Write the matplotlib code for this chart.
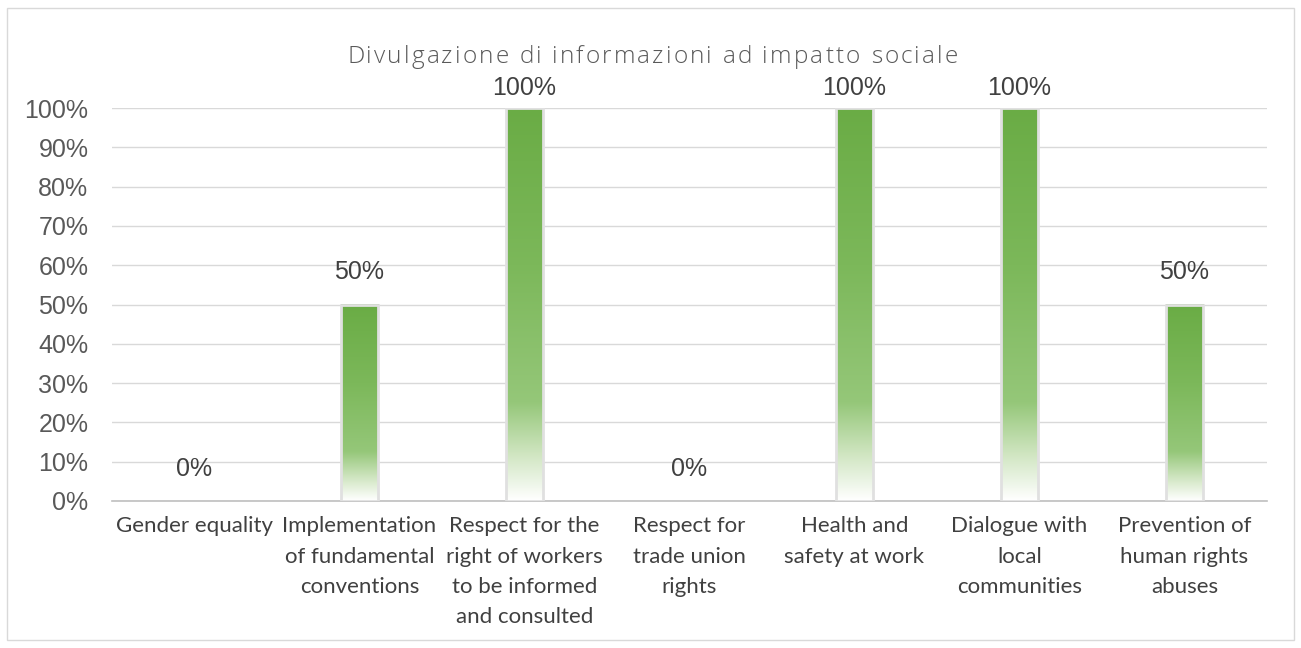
import matplotlib
matplotlib.use("Agg")
import matplotlib.pyplot as plt
import numpy as np
from matplotlib.colors import LinearSegmentedColormap
from matplotlib.patches import Rectangle
from matplotlib.font_manager import FontProperties

categories = ["Gender equality",
              "Implementation\nof fundamental\nconventions",
              "Respect for the\nright of workers\nto be informed\nand consulted",
              "Respect for\ntrade union\nrights",
              "Health and\nsafety at work",
              "Dialogue with\nlocal\ncommunities",
              "Prevention of\nhuman rights\nabuses"]
values = [0, 50, 100, 0, 100, 100, 50]
labels = ["0%", "50%", "100%", "0%", "100%", "100%", "50%"]
yticks = [0, 10, 20, 30, 40, 50, 60, 70, 80, 90, 100]
title = "Divulgazione di informazioni ad impatto sociale"

W, H = 1301, 648
fig = plt.figure(figsize=(W/100, H/100), dpi=100)
ax = fig.add_axes([112/W, 1-501/H, (1267-112)/W, (501-108)/H])

# outer border
fig.patches.append(Rectangle((7/W, 8/H), (1294-7)/W, (640-8)/H,
                             transform=fig.transFigure, fill=False,
                             edgecolor="#d9d9d9", linewidth=1))

x = np.arange(len(categories))
bars = ax.bar(x, values, width=0.23, color="none", edgecolor="none", zorder=3)

cmap = LinearSegmentedColormap.from_list("g", [
    (0.0, "#ffffff"), (0.12, "#cfe5c0"), (0.25, "#95c779"),
    (0.6, "#7cb85a"), (1.0, "#6aac45")])
grad = np.linspace(0, 1, 256).reshape(-1, 1)
for b in bars:
    h = b.get_height()
    if h <= 0:
        continue
    x0 = b.get_x(); w = b.get_width()
    ax.imshow(grad, cmap=cmap, origin="lower", aspect="auto",
              extent=(x0, x0 + w, 0, h), zorder=3, interpolation="bilinear")
    ax.add_patch(Rectangle((x0, 0), w, h, fill=False, edgecolor="#e0e0e0",
                           linewidth=2, zorder=4))

for xi, v, lab in zip(x, values, labels):
    ax.text(xi, min(v + 8.2, 105.2), lab, ha="center", va="center", fontsize=18,
            color="#404040", family="Liberation Sans", zorder=5, clip_on=False)

ax.set_xlim(-0.5, len(categories) - 0.5)
ax.set_ylim(0, 100)
ax.set_yticks(yticks)
ax.set_yticklabels([f"{t}%" for t in yticks], fontsize=18, color="#595959",
                   family="Liberation Sans")
ax.set_xticks(x)
ax.set_xticklabels(categories, fontsize=16, color="#404040", family="Lato",
                   va="top", linespacing=1.65)
ax.tick_params(axis="both", length=0)
ax.tick_params(axis="y", pad=17)
ax.tick_params(axis="x", pad=11)
ax.grid(axis="y", color="#d9d9d9", linewidth=1, zorder=0)
ax.set_axisbelow(True)
for s in ["top", "right", "left"]:
    ax.spines[s].set_visible(False)
ax.spines["bottom"].set_color("#bfbfbf")
ax.spines["bottom"].set_linewidth(1.2)

# letter-spaced title
prop = FontProperties(family="Open Sans", weight="light", size=17.6)
fig.canvas.draw()
r = fig.canvas.get_renderer()
def tw(s):
    return r.get_text_width_height_descent(s, prop, ismath=False)[0]
refw = tw("X")
starts = [tw(title[:i] + "X") - refw for i in range(len(title))]
natural = tw(title)
target = 611.0
spacing = (target - natural) / (len(title) - 1)
left = 652.5 - target / 2
for i, ch in enumerate(title):
    if ch == " ":
        continue
    fig.text((left + starts[i] + i * spacing) / W, 1 - 63/H, ch,
             fontproperties=prop, ha="left", va="baseline", color="#595959")

fig.savefig("out.png", dpi=100, facecolor="white")
